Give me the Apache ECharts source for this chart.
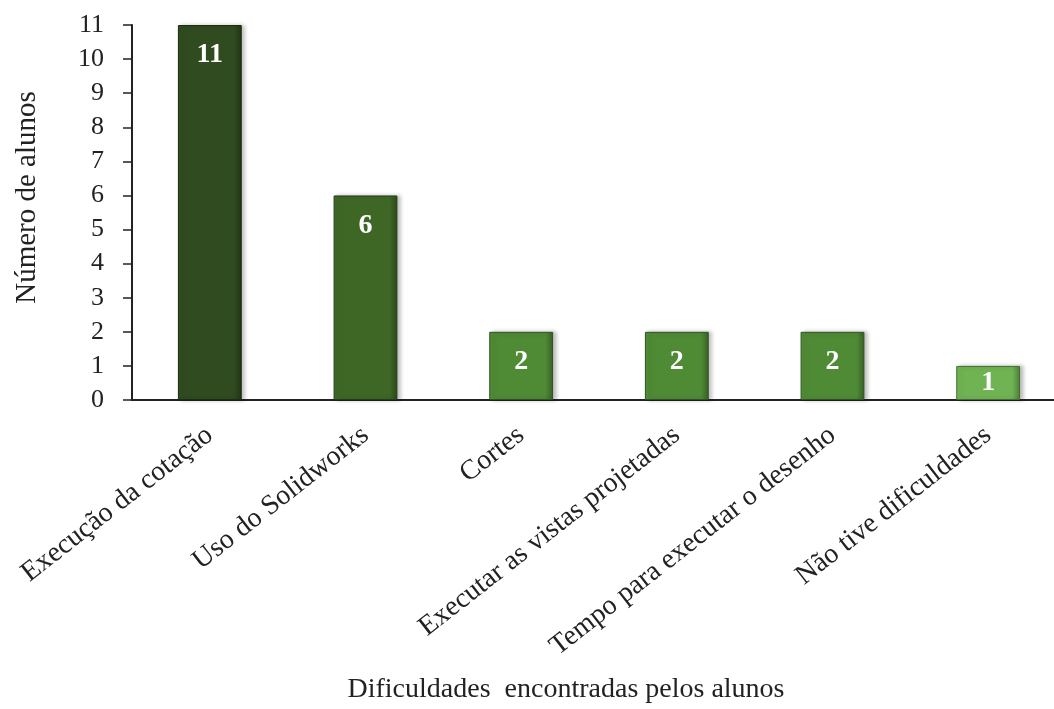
<!DOCTYPE html>
<html>
<head>
<meta charset="utf-8">
<script src="https://cdn.jsdelivr.net/npm/echarts@6/dist/echarts.min.js"></script>
<style>
  html, body { margin: 0; padding: 0; background: #fff; }
  #chart { width: 1054px; height: 709px; }
</style>
</head>
<body>
<div id="chart"></div>
<script>
// dados do gráfico
const categories = [
  'Execução da cotação',
  'Uso do Solidworks',
  'Cortes',
  'Executar as vistas projetadas',
  'Tempo para executar o desenho',
  'Não tive dificuldades'
]
const values = [11, 6, 2, 2, 2, 1]
const barColors = ['#2f4b1f', '#3e6726', '#4f8a35', '#4f8a35', '#4f8a35', '#6fb353']
const yTicks = [0, 1, 2, 3, 4, 5, 6, 7, 8, 9, 10, 11]

const font = '"Liberation Serif", "Times New Roman", serif'

function shade(hex, amt) {
  const n = parseInt(hex.slice(1), 16)
  let r = (n >> 16) & 255, g = (n >> 8) & 255, b = n & 255
  r = Math.max(0, Math.min(255, Math.round(r * amt)))
  g = Math.max(0, Math.min(255, Math.round(g * amt)))
  b = Math.max(0, Math.min(255, Math.round(b * amt)))
  return 'rgb(' + r + ',' + g + ',' + b + ')'
}

const chart = echarts.init(document.getElementById('chart'))

const option = {
  animation: false,
  grid: {
    left: 132, top: 25, width: 934, height: 375,
    containLabel: false,
    outerBoundsMode: 'none'
  },
  xAxis: {
    type: 'category',
    data: categories,
    name: 'Dificuldades  encontradas pelos alunos',
    nameLocation: 'middle',
    nameGap: 276,
    nameTextStyle: { fontFamily: font, fontSize: 28, color: '#222', padding: [0, 66, 0, 0] },
    axisLine: { lineStyle: { color: '#222', width: 2 } },
    axisTick: { show: false },
    axisLabel: {
      interval: 0,
      rotate: 38,
      margin: 32,
      fontFamily: font,
      fontSize: 28,
      color: '#222'
    }
  },
  yAxis: {
    type: 'value',
    min: yTicks[0],
    max: yTicks[yTicks.length - 1],
    interval: 1,
    name: 'Número de alunos',
    nameLocation: 'middle',
    nameGap: 90,
    nameTextStyle: { fontFamily: font, fontSize: 29, color: '#222', padding: [0, 0, 0, 30] },
    axisLine: { show: true, lineStyle: { color: '#222', width: 2 } },
    axisTick: { show: true, inside: false, length: 9, lineStyle: { color: '#222', width: 1.5 } },
    axisLabel: { fontFamily: font, fontSize: 26, color: '#222', margin: 28 },
    splitLine: { show: false }
  },
  series: [{
    type: 'bar',
    barWidth: '41%',
    data: values.map((v, i) => ({
      value: v,
      // barra baixa: rótulo mais perto do topo
      label: v < 2 ? { distance: 3 } : undefined,
      itemStyle: {
        color: {
          type: 'linear', x: 0, y: 0, x2: 1, y2: 0,
          colorStops: [
            { offset: 0, color: shade(barColors[i], 1.05) },
            { offset: 0.12, color: barColors[i] },
            { offset: 0.88, color: barColors[i] },
            { offset: 1, color: shade(barColors[i], 0.7) }
          ]
        },
        borderColor: shade(barColors[i], 0.6),
        borderWidth: 1,
        shadowColor: 'rgba(0,0,0,0.25)',
        shadowBlur: 4,
        shadowOffsetX: 3,
        shadowOffsetY: 0
      }
    })),
    label: {
      show: true,
      position: 'insideTop',
      distance: 16,
      fontFamily: font,
      fontSize: 28,
      fontWeight: 'bold',
      color: '#fff'
    }
  }]
}

chart.setOption(option)
</script>
</body>
</html>
